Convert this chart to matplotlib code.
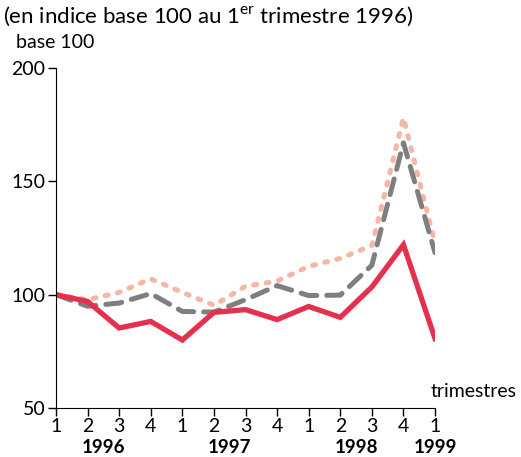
import matplotlib
matplotlib.use('Agg')
import matplotlib.pyplot as plt
from matplotlib.transforms import blended_transform_factory

plt.rcParams['font.family'] = ['Lato', 'DejaVu Sans']
plt.rcParams['mathtext.fontset'] = 'custom'
plt.rcParams['mathtext.rm'] = 'Lato'

# Quarters from Q1 1996 to Q1 1999
quarter_labels = ['1', '2', '3', '4', '1', '2', '3', '4', '1', '2', '3', '4', '1']
years = ['1996', '1997', '1998', '1999']
year_pos = [2.5, 6.5, 10.5, 13]

red_series = [100, 97, 85.3, 88.2, 80, 92.2, 93.4, 89, 94.8, 90, 103.4, 122, 80.6]
gray_series = [100, 94.9, 96.3, 100.5, 92.6, 92.3, 97.8, 104, 99.6, 99.8, 113, 167, 118.5]
pink_series = [100, 97.8, 101, 107, 101, 95.3, 103.7, 106, 112.5, 116, 121.7, 178, 122.6]

x = list(range(1, len(quarter_labels) + 1))

fig = plt.figure(figsize=(5.21, 4.57), dpi=100)
ax = fig.add_axes([0.1075, 0.1072, 0.7275, 0.744])

ax.plot(x, pink_series, color='#f5b7a3', linewidth=3.6, linestyle=(0, (0.6, 1.9)),
        dash_capstyle='round', solid_capstyle='round')
ax.plot(x, gray_series, color='#7f7f7f', linewidth=3.6, linestyle=(0, (3.2, 2.0)),
        dash_capstyle='round')
ax.plot(x, red_series, color='#e5304f', linewidth=3.8, solid_joinstyle='miter')

ax.set_xlim(1, 13)
ax.set_ylim(50, 200)
ax.set_yticks([50, 100, 150, 200])
ax.set_xticks(x)
ax.set_xticklabels(quarter_labels)
ax.tick_params(axis='both', labelsize=14, length=5.5, width=1, color='black', pad=2)
ax.spines['top'].set_visible(False)
ax.spines['right'].set_visible(False)
ax.patch.set_visible(False)

trans = blended_transform_factory(ax.transData, ax.transAxes)
for yr, xp in zip(years, year_pos):
    ax.text(xp, -0.092, yr, transform=trans, ha='center', va='top',
            fontsize=13.5, fontweight='bold')

ax.text(0.988, 0.025, 'trimestres', transform=ax.transAxes, ha='left', va='bottom',
        fontsize=14)
fig.text(0.006, 0.99, '(en indice base 100 au 1$^{\\mathrm{er}}$ trimestre 1996)',
         ha='left', va='top', fontsize=16)
fig.text(0.03, 0.925, 'base 100', ha='left', va='top', fontsize=14)

fig.savefig('out.png', dpi=100)
